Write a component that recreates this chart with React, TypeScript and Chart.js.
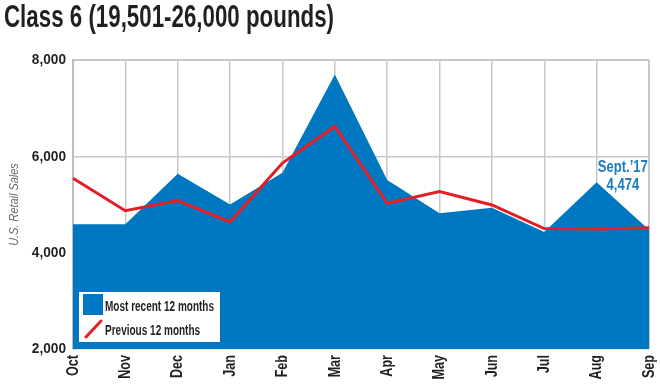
import React, { useEffect, useRef } from "react";
import { Chart, registerables } from "chart.js";

Chart.register(...registerables);

const months = ["Oct", "Nov", "Dec", "Jan", "Feb", "Mar", "Apr", "May", "Jun", "Jul", "Aug", "Sep"];
const recent = [4590, 4590, 5640, 5000, 5660, 7700, 5510, 4820, 4930, 4430, 5460, 4474];
const previous = [5545, 4870, 5080, 4640, 5860, 6620, 5025, 5270, 4990, 4500, 4490, 4515];
const yTicks = [2000, 4000, 6000, 8000];
const titleText = "Class 6 (19,501-26,000 pounds)";
const yTitle = "U.S. Retail Sales";
const legendLabels = ["Most recent 12 months", "Previous 12 months"];
const calloutLines = ["Sept.\u201917", "4,474"];

const FONT = '"Liberation Sans", Arial, sans-serif';
const BLUE = "#0077c1";
const RED = "#e31e24";
const DARK = "#231f20";

// horizontal condensing per font size (no condensed face is installed)
const SQUEEZE: Record<string, number> = {
  "31px": 0.72,
  "14px": 0.715,
  "15.5px": 0.88,
  "17px": 0.74,
  "16.5px": 0.79,
  "13px": 0.84,
};

const condense = {
  id: "condense",
  beforeInit(chart: any) {
    const ctx = chart.ctx;
    if (ctx.__condensed) return;
    ctx.__condensed = true;
    const orig = ctx.fillText;
    ctx.fillText = function (text: string, x: number, y: number) {
      const m = /(\d+(?:\.\d+)?)px/.exec(this.font);
      const s = m ? SQUEEZE[m[1] + "px"] ?? 1 : 1;
      if (s === 1) return orig.call(this, text, x, y);
      this.save();
      this.translate(x, y);
      this.scale(s, 1);
      orig.call(this, text, 0, 0);
      this.restore();
    };
  },
};

const overlay = {
  id: "overlay",
  afterDraw(chart: any) {
    const ctx = chart.ctx;
    ctx.save();
    // title
    ctx.fillStyle = DARK;
    ctx.font = `bold 31px ${FONT}`;
    ctx.textAlign = "left";
    ctx.textBaseline = "alphabetic";
    ctx.fillText(titleText, 4, 27);

    // legend
    const lx = 79, ly = 292;
    ctx.fillStyle = "#ffffff";
    ctx.fillRect(lx, ly, 141, 50);
    ctx.fillStyle = BLUE;
    ctx.fillRect(lx + 4, ly + 2, 20, 21);
    ctx.strokeStyle = RED;
    ctx.lineWidth = 3;
    ctx.lineCap = "round";
    ctx.beginPath();
    ctx.moveTo(lx + 7, ly + 45);
    ctx.lineTo(lx + 22, ly + 29);
    ctx.stroke();
    ctx.fillStyle = DARK;
    ctx.font = `bold 14px ${FONT}`;
    ctx.fillText(legendLabels[0], lx + 26, ly + 19);
    ctx.fillText(legendLabels[1], lx + 26, ly + 42.5);

    // callout
    const xs = chart.scales.x;
    const ys = chart.scales.y;
    const cx = (xs.getPixelForValue(10) + xs.getPixelForValue(11)) / 2;
    const cy = ys.getPixelForValue(recent[10]);
    ctx.fillStyle = "#1a7cc1";
    ctx.font = `bold 16.5px ${FONT}`;
    ctx.textAlign = "center";
    ctx.fillText(calloutLines[0], cx, cy - 10);
    ctx.fillText(calloutLines[1], cx, cy + 7.5);
    ctx.restore();
  },
};

export default function App() {
  const ref = useRef<HTMLCanvasElement>(null);
  useEffect(() => {
    const chart = new Chart(ref.current as HTMLCanvasElement, {
      type: "line",
      data: {
        labels: months,
        datasets: [
          {
            label: legendLabels[0],
            data: recent,
            fill: "start",
            backgroundColor: BLUE,
            borderColor: BLUE,
            borderWidth: 0,
            pointRadius: 0,
            tension: 0,
            order: 2,
          },
          {
            label: legendLabels[1],
            data: previous,
            fill: false,
            borderColor: RED,
            borderWidth: 3,
            pointRadius: 0,
            tension: 0,
            order: 1,
          },
        ],
      },
      options: {
        responsive: false,
        animation: false,
        layout: { padding: { top: 60, right: 11, left: 0, bottom: 0 } },
        plugins: { legend: { display: false }, tooltip: { enabled: false }, title: { display: false } },
        scales: {
          x: {
            offset: false,
            grid: {
              color: "#c8c8c8",
              lineWidth: (c: any) => (c.index === months.length - 1 ? 2 : 1.5),
              drawTicks: false,
            },
            border: { display: false },
            ticks: {
              minRotation: 90,
              maxRotation: 90,
              autoSkip: false,
              padding: 6,
              color: DARK,
              font: { family: FONT, size: 17, weight: "bold" },
            },
            afterFit: (s: any) => {
              s.height = 35;
              s.paddingLeft = 0;
              s.paddingRight = 0;
            },
          },
          y: {
            min: yTicks[0],
            max: yTicks[yTicks.length - 1],
            afterBuildTicks: (s: any) => {
              s.ticks = yTicks.map((v) => ({ value: v }));
            },
            grid: {
              color: "#c8c8c8",
              lineWidth: (c: any) => (c.index === yTicks.length - 1 ? 2 : 1.5),
              drawTicks: false,
            },
            border: { display: true, color: "#bdbdbd", width: 2 },
            ticks: {
              padding: 7,
              color: DARK,
              font: { family: FONT, size: 15.5, weight: "bold" },
              callback: (v: any) => Number(v).toLocaleString("en-US"),
            },
            title: {
              display: true,
              text: yTitle,
              color: "#6d6e71",
              padding: { top: 7, bottom: 0 },
              font: { family: FONT, size: 13, style: "italic" },
            },
            afterFit: (s: any) => {
              s.width = 73;
            },
          },
        },
      },
      plugins: [condense, overlay],
    });
    return () => chart.destroy();
  }, []);
  return (
    <div style={{ position: "absolute", left: 0, top: 0, width: 660, height: 384, background: "#fff" }}>
      <canvas ref={ref} width={660} height={384} />
    </div>
  );
}
